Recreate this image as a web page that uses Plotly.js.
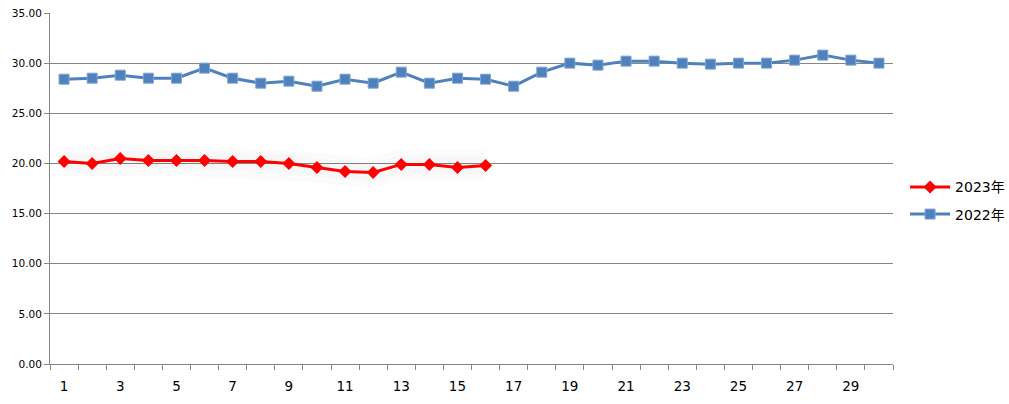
<!DOCTYPE html>
<html>
<head>
<meta charset="utf-8">
<script src="https://cdn.plot.ly/plotly-3.0.1.min.js"></script>
<style>html,body{margin:0;padding:0;background:#fff;}#chart{width:1009px;height:404px;}</style>
</head>
<body>
<div id="chart"></div>
<script>
const days = Array.from({length: 30}, (_, i) => i + 1);
const days2023 = days.slice(0, 16);
const values2023 = [20.2, 20.0, 20.5, 20.3, 20.3, 20.3, 20.2, 20.2, 20.0, 19.6, 19.2, 19.1, 19.9, 19.9, 19.6, 19.8];
const values2022 = [28.4, 28.5, 28.8, 28.5, 28.5, 29.5, 28.5, 28.0, 28.2, 27.7, 28.4, 28.0, 29.1, 28.0, 28.5, 28.4, 27.7, 29.1, 30.0, 29.8, 30.2, 30.2, 30.0, 29.9, 30.0, 30.0, 30.3, 30.8, 30.3, 30.0];
const seriesNames = ['2023年', '2022年'];
const xTickLabels = [1, 3, 5, 7, 9, 11, 13, 15, 17, 19, 21, 23, 25, 27, 29];
const yTicks = [0, 5, 10, 15, 20, 25, 30, 35];

const font = "'DejaVu Sans', 'Noto Sans CJK SC', sans-serif";

const traces = [
  {
    x: days2023, y: values2023, type: 'scatter', mode: 'lines', showlegend: false, hoverinfo: 'skip',
    line: {color: 'rgba(0,0,0,0.015)', width: 30}
  },
  {
    x: days2023, y: values2023, type: 'scatter', mode: 'lines', showlegend: false, hoverinfo: 'skip',
    line: {color: 'rgba(0,0,0,0.015)', width: 18}
  },
  {
    x: days2023, y: values2023, name: seriesNames[0], type: 'scatter', mode: 'lines+markers',
    legendgroup: 'a',
    line: {color: '#FF0000', width: 3},
    marker: {symbol: 'diamond', size: 10, color: '#FF0000'}
  },
  {
    x: days, y: values2022, name: seriesNames[1], type: 'scatter', mode: 'lines+markers',
    legendgroup: 'b',
    line: {color: '#4F81BD', width: 3},
    marker: {symbol: 'square', size: 10, color: '#4F81BD', line: {color: '#7FA4D2', width: 1}}
  }
];

const layout = {
  width: 1009, height: 404,
  margin: {l: 50, r: 116, t: 13, b: 40},
  paper_bgcolor: '#FFFFFF', plot_bgcolor: '#FFFFFF',
  font: {family: font, color: '#000000'},
  showlegend: true,
  legend: {xref: 'container', yref: 'container', x: 0.897, y: 0.503, xanchor: 'left', yanchor: 'middle',
           font: {size: 14, family: font}, traceorder: 'grouped', tracegroupgap: 6, itemwidth: 40,
           bgcolor: 'rgba(0,0,0,0)'},
  xaxis: {
    range: [0.5, 30.5], tickmode: 'array', tickvals: xTickLabels, ticktext: xTickLabels.map(String),
    ticks: '', showgrid: false, zeroline: false, showline: true, linecolor: '#868686', linewidth: 1,
    tickfont: {size: 13.5, family: font}, ticklabelstandoff: 10,
    minor: {ticks: 'outside', tick0: 0.5, dtick: 1, ticklen: 5, tickcolor: '#868686', showgrid: false}
  },
  yaxis: {
    range: [0, 35], tickmode: 'array', tickvals: yTicks, tickformat: '.2f',
    ticks: 'outside', ticklen: 5, tickcolor: '#868686',
    showgrid: true, gridcolor: '#868686', gridwidth: 1, zeroline: false,
    showline: true, linecolor: '#868686', linewidth: 1,
    tickfont: {size: 10.5, family: font}
  }
};

Plotly.newPlot('chart', traces, layout, {displayModeBar: false, staticPlot: true});
</script>
</body>
</html>
